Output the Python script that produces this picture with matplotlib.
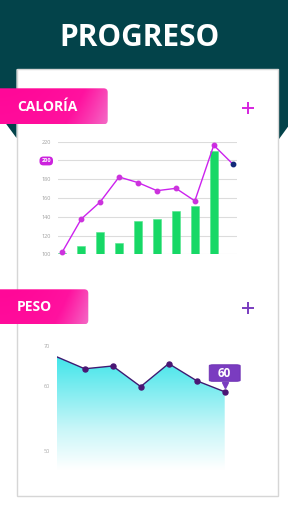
import numpy as np
import matplotlib.pyplot as plt
from matplotlib.patches import Polygon, Rectangle, FancyBboxPatch
from matplotlib.colors import LinearSegmentedColormap
from matplotlib.transforms import ScaledTranslation

# Calorías chart data
cal_bar_x = [0, 1, 2, 3, 4, 5, 6, 7, 8]
cal_bars = [101.7, 108.8, 123.8, 112.0, 135.0, 138.0, 146.0, 151.0, 210.0]
cal_line_x = [0, 1, 2, 3, 4, 5, 6, 7, 8, 9]
cal_line = [102.5, 137.6, 155.8, 182.4, 176.4, 167.8, 170.3, 156.9, 216.2, 196.3]
cal_ticks = [100, 120, 140, 160, 180, 200, 220]

# Peso chart data
peso_x = [0, 1, 2, 3, 4, 5, 6]
peso = [67.3, 64.3, 65.0, 59.9, 65.6, 61.3, 59.1]
peso_ticks = [50, 60, 70]
peso_label = "60"

W, H = 288, 512
TEAL = "#03434a"

plt.rcParams['font.family'] = ['Open Sans', 'DejaVu Sans']

fig = plt.figure(figsize=(W / 100, H / 100), dpi=100)
fig.patch.set_facecolor("white")

# background axes in pixel coords
bg = fig.add_axes([0, 0, 1, 1])
bg.set_xlim(0, W)
bg.set_ylim(H, 0)
bg.axis("off")

bg.add_patch(Polygon([(0, 0), (W, 0), (W, 126.7), (278.3, 140), (278.3, 69.3),
                      (16.5, 69.3), (16.5, 138), (0, 115.6)],
                     closed=True, fc=TEAL, ec="none", zorder=1))
bg.add_patch(Rectangle((16.5, 69.3), 261.8, 426.7, fc="white", ec="#d6d6d6",
                       lw=1.0, zorder=1))

bg.text(139, 37.5, "PROGRESO", color="white", fontsize=21.5, fontweight="bold",
        ha="center", va="center", zorder=3)

pink = LinearSegmentedColormap.from_list("pink", ["#ff0898", "#ff129f", "#f46ac6"])


def tab(x1, y0, y1, label):
    box = FancyBboxPatch((-10, y0), x1 + 10, y1 - y0,
                         boxstyle="round,pad=0,rounding_size=4",
                         fc="none", ec="none", zorder=2)
    bg.add_patch(box)
    gx, gy = np.meshgrid(np.linspace(0, 1, 100), np.linspace(0, 1, 20))
    grad = np.clip(0.8 * gx ** 2 + 0.2 * gy, 0, 1)
    im = bg.imshow(grad, cmap=pink, extent=[0, x1, y1, y0], aspect="auto",
                   interpolation="bilinear", zorder=2)
    im.set_clip_path(box)
    bg.text(17, (y0 + y1) / 2 + 0.5, label, color="white", fontsize=10,
            fontweight="bold", ha="left", va="center", zorder=3)


tab(107.7, 88.3, 124.3, "CALORÍA")
tab(88.3, 289.3, 324.3, "PESO")

bg.plot([248.3], [108.3], marker="+", ms=8, mew=1.4, color="#d625e0", zorder=3)
bg.plot([248.3], [307.5], marker="+", ms=8, mew=1.4, color="#7a3cc0", zorder=3)

bg.set_xlim(0, W)
bg.set_ylim(H, 0)


def fig_rect(left, top, right, bottom):
    return [left / W, 1 - bottom / H, (right - left) / W, (bottom - top) / H]


# --- Calorías chart
step = (232.7 - 62.3) / 9
ax1 = fig.add_axes(fig_rect(58, 141.7, 237, 254.3))
ax1.patch.set_alpha(0)
ax1.bar(cal_bar_x, np.array(cal_bars) - 100, bottom=100, width=0.42,
        color="#17d866", edgecolor="#52e58c", lw=0.4, zorder=2)
ax1.plot(cal_line_x[:-1], cal_line[:-1], color="#cc22ee", lw=1.0, marker="o",
         ms=3.2, mfc="#cc33dd", mec="#cc33dd", zorder=3, clip_on=False)
ax1.plot(cal_line_x[-2:], cal_line[-2:], color="#cc22ee", lw=1.0, zorder=3, clip_on=False)
ax1.plot(cal_line_x[-1:], cal_line[-1:], "o", ms=3.2, color="#12297a", zorder=4, clip_on=False)
ax1.set_xlim(-(62.3 - 58) / step, 9 + (237 - 232.7) / step)
ax1.set_ylim(100, 220)
ax1.set_yticks(cal_ticks)
ax1.set_yticklabels([str(t) for t in cal_ticks])
ax1.set_xticks([])
ax1.grid(axis="y", color="#dcdcdc", lw=0.8)
ax1.set_axisbelow(True)
for s in ax1.spines.values():
    s.set_visible(False)
ax1.tick_params(axis="y", length=0, pad=5, labelsize=4, labelcolor="#a0a0a0")
for lab in ax1.get_yticklabels():
    if lab.get_text() == "200":
        lab.set_color("white")
        lab.set_fontweight("bold")
        lab.set_bbox(dict(boxstyle="round,pad=0.35,rounding_size=0.7",
                          fc="#cc22dd", ec="none"))

# --- Peso chart (scale is stretched below 60, as in the app)
K = 64.7 / 40


def fwd(y):
    y = np.asarray(y, dtype=float)
    return np.where(y >= 60, y - 60, (y - 60) * K)


def inv(v):
    v = np.asarray(v, dtype=float)
    return np.where(v >= 0, v + 60, v / K + 60)


ax2 = fig.add_axes(fig_rect(56.7, 346, 224.7, 470))
ax2.patch.set_alpha(0)
ax2.set_yscale("function", functions=(fwd, inv))
fill = ax2.fill_between(peso_x, peso, 47, color="none", lw=0)
cyan = LinearSegmentedColormap.from_list("cyan", ["#ffffff", "#c8f6f8", "#7becf0", "#2ee3e8"])
grad = np.linspace(1, 0, 200).reshape(-1, 1)
im = ax2.imshow(grad, cmap=cyan, extent=[0, 1, 0, 1], transform=ax2.transAxes,
                aspect="auto", interpolation="bilinear", zorder=1)
im.set_clip_path(fill.get_paths()[0], transform=ax2.transData)
ax2.plot(peso_x, peso, color="#3f1a72", lw=1.0, zorder=3)
ax2.plot(peso_x[1:], peso[1:], "o", ms=3.6, color="#4a1674", zorder=4, clip_on=False)
ax2.set_xlim(0, 6)
ax2.set_ylim(47, 70)
ax2.set_yticks(peso_ticks)
ax2.set_yticklabels([str(t) for t in peso_ticks])
ax2.set_xticks([])
for s in ax2.spines.values():
    s.set_visible(False)
ax2.tick_params(axis="y", length=0, pad=5, labelsize=4, labelcolor="#a8a8a8")

ax2.annotate(peso_label, xy=(peso_x[-1], peso[-1]), xytext=(0, 13.5),
             textcoords="offset points", ha="center", va="center",
             color="white", fontsize=8.5, fontweight="bold", zorder=6,
             bbox=dict(boxstyle="round,pad=0.75,rounding_size=0.35",
                       mutation_aspect=0.2, fc="#7a3cc0", ec="#6a2cb2", lw=0.6))
ax2.plot([peso_x[-1]], [peso[-1]], marker="v", ms=4.5, color="#7a3cc0",
         transform=ax2.transData + ScaledTranslation(0, 4.6 / 72, fig.dpi_scale_trans),
         zorder=5, clip_on=False)

fig.savefig("out.png", dpi=100)
